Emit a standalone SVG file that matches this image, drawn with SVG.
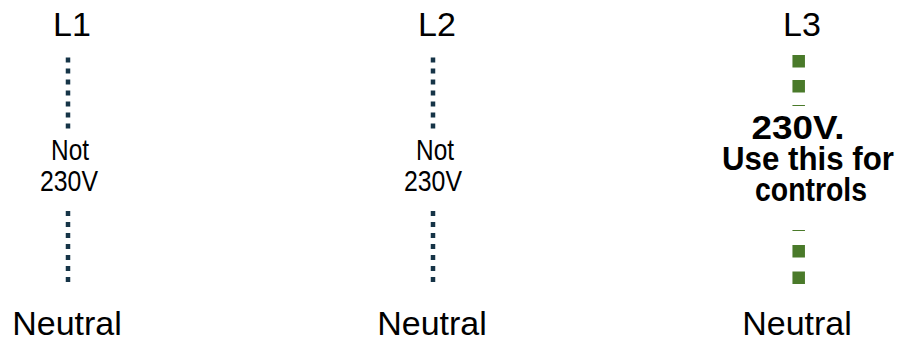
<svg xmlns="http://www.w3.org/2000/svg" width="898" height="342" viewBox="0 0 898 342">
<style>
.t{font-family:"Liberation Sans",Arial,Helvetica,sans-serif;fill:#000;text-anchor:middle}
.big{font-size:34px}
.mid{font-size:29.5px}
.bold{font-size:33px;font-weight:bold}
.dot{stroke:#163447;stroke-width:4.5;stroke-dasharray:5 6;fill:none}
.sq{stroke:#4a7a2a;stroke-width:12.5;fill:none}
</style>
<rect width="898" height="342" fill="#fff"/>
<g id="connectors">
<line class="dot" x1="68" y1="57.5" x2="68" y2="129"/>
<line class="dot" x1="68" y1="211" x2="68" y2="282"/>
<line class="dot" x1="433" y1="57.5" x2="433" y2="129"/>
<line class="dot" x1="433" y1="211" x2="433" y2="282"/>
<line class="sq" x1="798.7" y1="55" x2="798.7" y2="106" style="stroke-dasharray:12.5 12.5"/>
<line class="sq" x1="798.7" y1="284" x2="798.7" y2="230" style="stroke-dasharray:12.5 14"/>
</g>
<g id="L1"><text class="t big" x="72" y="36">L1</text></g>
<g id="L2"><text class="t big" x="437" y="36">L2</text></g>
<g id="L3"><text class="t big" x="802" y="36">L3</text></g>
<g id="label1"><text class="t mid" x="70" y="160" textLength="38" lengthAdjust="spacingAndGlyphs">Not</text><text class="t mid" x="69" y="191" textLength="58" lengthAdjust="spacingAndGlyphs">230V</text></g>
<g id="label2"><text class="t mid" x="435" y="160" textLength="38" lengthAdjust="spacingAndGlyphs">Not</text><text class="t mid" x="433" y="191" textLength="58" lengthAdjust="spacingAndGlyphs">230V</text></g>
<g id="label3"><text class="t bold" x="798" y="139" textLength="93" lengthAdjust="spacingAndGlyphs">230V.</text><text class="t bold" x="808" y="170" textLength="172" lengthAdjust="spacingAndGlyphs">Use this for</text><text class="t bold" x="811" y="201" textLength="112" lengthAdjust="spacingAndGlyphs">controls</text></g>
<g id="N1"><text class="t big" x="67" y="335">Neutral</text></g>
<g id="N2"><text class="t big" x="432" y="335">Neutral</text></g>
<g id="N3"><text class="t big" x="797" y="335">Neutral</text></g>
</svg>
